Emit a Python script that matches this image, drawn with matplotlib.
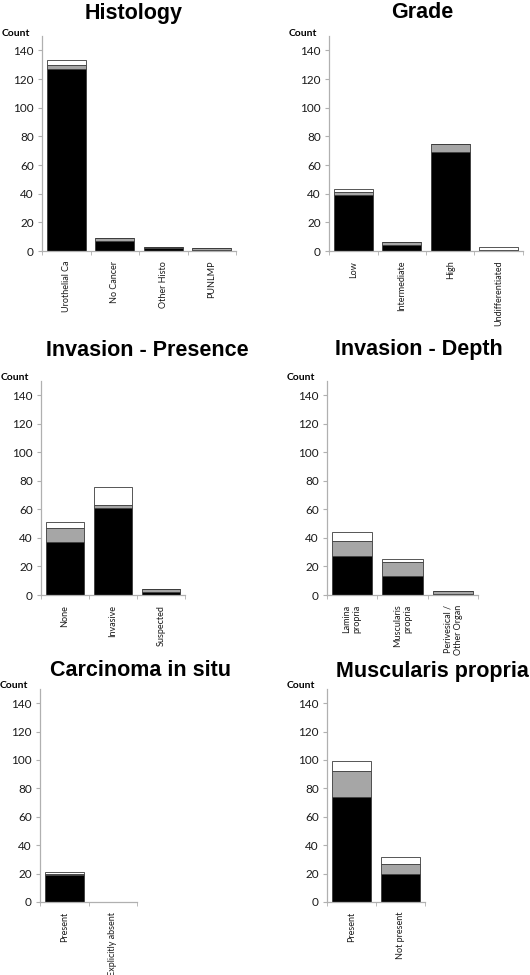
import matplotlib
matplotlib.use("Agg")
import matplotlib.pyplot as plt
import numpy as np

# ---- data ----
hist_cats = ["Urothelial Ca", "No Cancer", "Other Histo", "PUNLMP"]
hist_black = [127, 7, 2, 1]
hist_gray = [3, 2, 1, 1]
hist_white = [3, 0, 0, 0]

grade_cats = ["Low", "Intermediate", "High", "Undifferentiated"]
grade_black = [39, 4, 69, 1]
grade_gray = [2, 2, 6, 0]
grade_white = [2, 0, 0, 2]

invp_cats = ["None", "Invasive", "Suspected"]
invp_black = [37, 61, 2]
invp_gray = [10, 2, 2]
invp_white = [4, 13, 0]

invd_cats = ["Lamina\npropria", "Muscularis\npropria", "Perivesical /\nOther Organ"]
invd_black = [27, 13, 1]
invd_gray = [11, 10, 2]
invd_white = [6, 2, 0]

cis_cats = ["Present", "Explicitly absent"]
cis_black = [19, 0]
cis_gray = [1, 0]
cis_white = [1, 0]

mp_cats = ["Present", "Not present"]
mp_black = [74, 20]
mp_gray = [18, 7]
mp_white = [7, 5]

yticks = [0, 20, 40, 60, 80, 100, 120, 140]

W, H = 530, 975
fig = plt.figure(figsize=(W / 100, H / 100), dpi=100)

panels = [
    ("Histology", hist_cats, hist_black, hist_gray, hist_white, (42, 236, 251, 36), (134, 13)),
    ("Grade", grade_cats, grade_black, grade_gray, grade_white, (329, 523, 251, 36), (422, 13)),
    ("Invasion - Presence", invp_cats, invp_black, invp_gray, invp_white, (41, 185, 595, 381), (147, 350)),
    ("Invasion - Depth", invd_cats, invd_black, invd_gray, invd_white, (327, 478, 595, 381), (419, 350)),
    ("Carcinoma in situ", cis_cats, cis_black, cis_gray, cis_white, (40, 137, 902, 689), (141, 670)),
    ("Muscularis propria", mp_cats, mp_black, mp_gray, mp_white, (327, 425, 902, 689), (432, 672)),
]

spine_col = "#b0b0b0"
edge_col = "#3a3a3a"

for title, cats, b, g, w, (x0, x1, yb, yt), (tx, ty) in panels:
    ax = fig.add_axes([x0 / W, 1 - yb / H, (x1 - x0) / W, (yb - yt) / H])
    n = len(cats)
    x = np.arange(n)
    b = np.array(b, float); g = np.array(g, float); w = np.array(w, float)
    kw = dict(width=0.8, edgecolor=edge_col, linewidth=0.6)
    ax.bar(x, b, color="black", **kw)
    ax.bar(x, g, bottom=b, color="#a6a6a6", **kw)
    ax.bar(x, w, bottom=b + g, color="white", **kw)
    ax.set_xlim(-0.5, n - 0.5)
    ax.set_ylim(0, 150)
    ax.set_yticks(yticks)
    ax.set_yticklabels([str(v) for v in yticks], fontsize=8.5, family="Lato", color="#1a1a1a")
    ax.set_xticks(x)
    ax.set_xticklabels(cats, rotation=90, fontsize=6.5, family="Lato",
                       multialignment="right", color="#1a1a1a")
    ax.set_xticks(np.arange(n + 1) - 0.5, minor=True)
    ax.tick_params(axis="x", which="major", length=0, pad=7)
    ax.tick_params(axis="x", which="minor", length=3, color=spine_col, direction="out")
    ax.tick_params(axis="y", length=3, color=spine_col, direction="out", pad=3)
    for s in ["top", "right"]:
        ax.spines[s].set_visible(False)
    for s in ["left", "bottom"]:
        ax.spines[s].set_color(spine_col)
        ax.spines[s].set_linewidth(0.9)
    ax.patch.set_alpha(0)
    fig.text(tx / W, 1 - ty / H, title, ha="center", va="center",
             fontsize=15.5, fontweight="bold", family="Liberation Sans")
    fig.text((x0 - 26) / W, 1 - (yt - 3) / H, "Count", ha="center", va="center",
             fontsize=7.5, fontweight="bold", family="Lato")

fig.savefig("out.png", dpi=100, facecolor="white")
